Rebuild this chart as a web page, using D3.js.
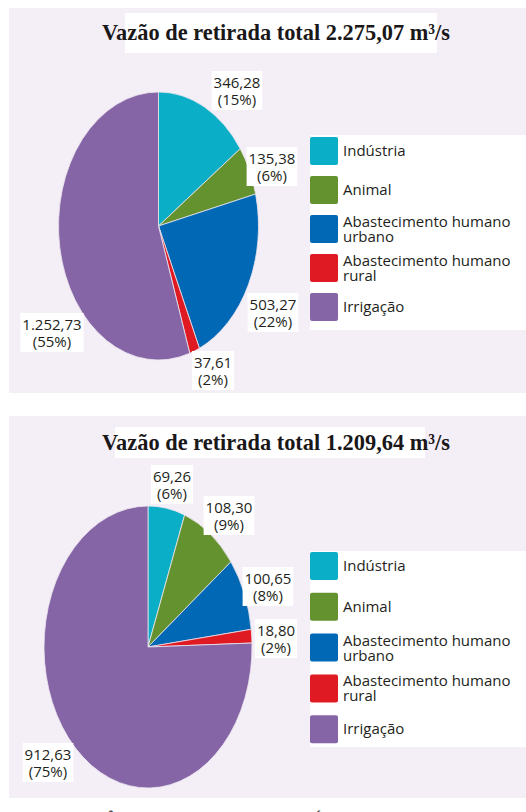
<!DOCTYPE html>
<html>
<head>
<meta charset="utf-8">
<script src="https://cdn.jsdelivr.net/npm/d3@7"></script>
<style>
  body { margin: 0; background: #fff; }
  svg { display: block; }
  .lbl, .leg { font-family: "Open Sans", sans-serif; fill: #231f20; }
</style>
</head>
<body>
<div id="chart"></div>
<script>
// categories (same order for both pies, clockwise from 12 o'clock)
var categories = ["Indústria", "Animal", "Abastecimento humano urbano", "Abastecimento humano rural", "Irrigação"];
var legendLines = [["Indústria"], ["Animal"], ["Abastecimento humano", "urbano"], ["Abastecimento humano", "rural"], ["Irrigação"]];
var colors = ["#0aaec6", "#64922e", "#0068b4", "#e01a22", "#8565a6"];

// top pie
var title1 = "Vazão de retirada total 2.275,07 m³/s";
var values1 = [346.28, 135.38, 503.27, 37.61, 1252.73];
var percents1 = [15, 6, 22, 2, 55];

// bottom pie
var title2 = "Vazão de retirada total 1.209,64 m³/s";
var values2 = [69.26, 108.30, 100.65, 18.80, 912.63];
var percents2 = [6, 9, 8, 2, 75];

var sourceText = "Fonte: AGÊNCIA NACIONAL DE ÁGUAS, 2013.";

var svgWidth = 526;
var svgHeight = 812;

var svg = d3.select("#chart")
  .append("svg")
  .attr("width", svgWidth)
  .attr("height", svgHeight);

var br = d3.formatLocale({ decimal: ",", thousands: ".", grouping: [3], currency: ["R$", ""] });
var fmt = br.format(",.2f");

// layout of each panel
var panels = [
  {
    title: title1, values: values1, percents: percents1,
    bg: [9, 8, 517, 385],
    titleBox: [125, 13, 312, 40], titleY: 40,
    cx: 158.5, cy: 226, rx: 100, ry: 134,
    labels: [[237, 88], [272, 164], [273, 310], [213, 368], [52, 330]],
    legBox: [310, 135, 216, 195], legTop: 137, legStep: 39
  },
  {
    title: title2, values: values2, percents: percents2,
    bg: [9, 416, 517, 382],
    titleBox: [115, 427, 310, 31], titleY: 450,
    cx: 148, cy: 647, rx: 104, ry: 141,
    labels: [[172, 482], [229, 513], [268, 584], [276, 636], [48, 760]],
    legBox: [310, 551, 216, 196], legTop: 552, legStep: 40.8
  }
];

var pie = d3.pie().sort(null).value(d => d);

panels.forEach(function(p) {
  var g = svg.append("g");

  g.append("rect")
    .attr("x", p.bg[0]).attr("y", p.bg[1])
    .attr("width", p.bg[2]).attr("height", p.bg[3])
    .attr("fill", "#f4eef6");

  // title
  g.append("rect")
    .attr("x", p.titleBox[0]).attr("y", p.titleBox[1])
    .attr("width", p.titleBox[2]).attr("height", p.titleBox[3])
    .attr("fill", "#fff");

  g.append("text")
    .attr("x", 102)
    .attr("y", p.titleY)
    .attr("textLength", 348)
    .attr("lengthAdjust", "spacingAndGlyphs")
    .style("font-family", "'Liberation Serif', serif")
    .style("font-weight", "bold")
    .style("font-size", "23px")
    .style("fill", "#1a1718")
    .text(p.title);

  // pie, drawn as a circle and stretched into an ellipse
  var arc = d3.arc().innerRadius(0).outerRadius(p.rx);
  var pieG = g.append("g")
    .attr("transform", `translate(${p.cx}, ${p.cy}) scale(1, ${p.ry / p.rx})`);

  pieG.selectAll("path")
    .data(pie(p.values))
    .enter()
    .append("path")
    .attr("d", arc)
    .attr("fill", (d, i) => colors[i])
    .attr("stroke", "#ece6ef")
    .attr("stroke-width", 0.8)
    .attr("vector-effect", "non-scaling-stroke");

  // value labels
  var lblG = g.append("g");
  p.values.forEach(function(v, i) {
    var pos = p.labels[i];
    var t = lblG.append("text")
      .attr("class", "lbl")
      .attr("text-anchor", "middle")
      .style("font-size", "15px");
    t.append("tspan").attr("x", pos[0]).attr("y", pos[1]).text(fmt(v));
    t.append("tspan").attr("x", pos[0]).attr("y", pos[1] + 17).text("(" + p.percents[i] + "%)");
    var bb = t.node().getBBox();
    lblG.insert("rect", "text")
      .attr("x", bb.x - 2).attr("y", bb.y - 1)
      .attr("width", bb.width + 4).attr("height", bb.height + 2)
      .attr("fill", "#fff");
  });

  // legend
  g.append("rect")
    .attr("x", p.legBox[0]).attr("y", p.legBox[1])
    .attr("width", p.legBox[2]).attr("height", p.legBox[3])
    .attr("fill", "#fff");

  var items = g.selectAll(".item")
    .data(categories)
    .enter()
    .append("g")
    .attr("class", "item")
    .attr("transform", (d, i) => `translate(310, ${p.legTop + i * p.legStep})`);

  items.append("rect")
    .attr("width", 28).attr("height", 28)
    .attr("rx", 2)
    .attr("fill", (d, i) => colors[i]);

  items.each(function(d, i) {
    var lines = legendLines[i];
    var t = d3.select(this).append("text")
      .attr("class", "leg")
      .style("font-size", "15px");
    var y0 = lines.length === 1 ? 19 : 12;
    lines.forEach(function(line, k) {
      t.append("tspan").attr("x", 33).attr("y", y0 + k * 15).text(line);
    });
  });
});

// source line, cut by the bottom edge
svg.append("text")
  .attr("x", 10)
  .attr("y", 826)
  .attr("textLength", 433)
  .attr("lengthAdjust", "spacingAndGlyphs")
  .style("font-family", "'Open Sans', sans-serif")
  .style("font-size", "16px")
  .style("fill", "#444")
  .text(sourceText);
</script>
</body>
</html>
